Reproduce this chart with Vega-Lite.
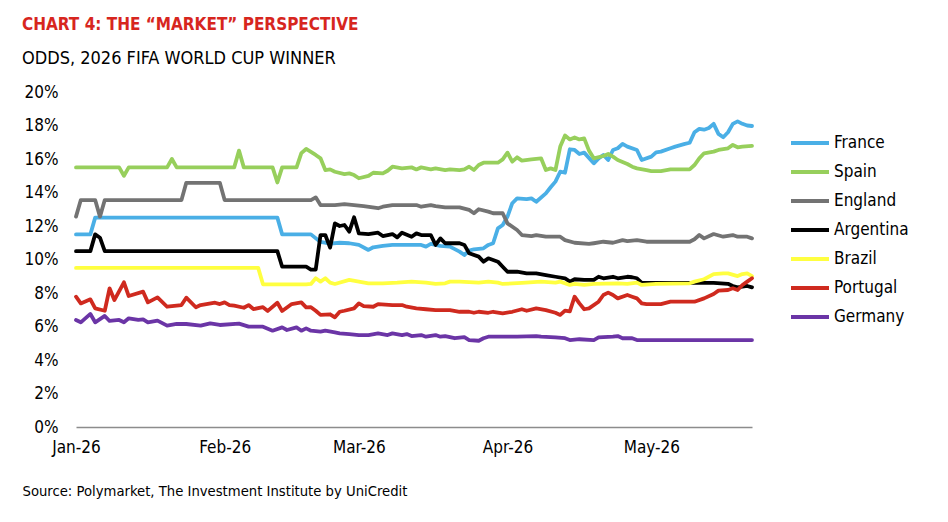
{
  "$schema": "https://vega.github.io/schema/vega-lite/v6.json",
  "width": 676,
  "height": 335,
  "autosize": {"type": "none"},
  "padding": {"left": 76, "top": 92, "right": 196, "bottom": 95},
  "background": "white",
  "title": {
    "text": "CHART 4: THE “MARKET” PERSPECTIVE",
    "subtitle": "ODDS, 2026 FIFA WORLD CUP WINNER",
    "anchor": "start",
    "frame": "group",
    "dx": -54,
    "offset": 14,
    "fontSize": 17,
    "fontWeight": "bold",
    "color": "#d7261e",
    "subtitleFontSize": 18,
    "subtitleColor": "black",
    "subtitlePadding": 16
  },
  "data": {"values": [
    {"country": "France", "date": "2026/01/01", "odds": 11.5},
    {"country": "France", "date": "2026/01/04", "odds": 11.5},
    {"country": "France", "date": "2026/01/05", "odds": 12.5},
    {"country": "France", "date": "2026/02/12", "odds": 12.5},
    {"country": "France", "date": "2026/02/13", "odds": 11.5},
    {"country": "France", "date": "2026/02/19", "odds": 11.5},
    {"country": "France", "date": "2026/02/21", "odds": 11.05},
    {"country": "France", "date": "2026/02/23", "odds": 10.95},
    {"country": "France", "date": "2026/02/25", "odds": 11.0},
    {"country": "France", "date": "2026/02/27", "odds": 10.97},
    {"country": "France", "date": "2026/03/01", "odds": 10.87},
    {"country": "France", "date": "2026/03/03", "odds": 10.57},
    {"country": "France", "date": "2026/03/04", "odds": 10.73},
    {"country": "France", "date": "2026/03/06", "odds": 10.81},
    {"country": "France", "date": "2026/03/08", "odds": 10.87},
    {"country": "France", "date": "2026/03/14", "odds": 10.87},
    {"country": "France", "date": "2026/03/15", "odds": 10.77},
    {"country": "France", "date": "2026/03/16", "odds": 10.93},
    {"country": "France", "date": "2026/03/18", "odds": 10.81},
    {"country": "France", "date": "2026/03/20", "odds": 10.77},
    {"country": "France", "date": "2026/03/22", "odds": 10.47},
    {"country": "France", "date": "2026/03/23", "odds": 10.27},
    {"country": "France", "date": "2026/03/24", "odds": 10.53},
    {"country": "France", "date": "2026/03/25", "odds": 10.61},
    {"country": "France", "date": "2026/03/27", "odds": 10.67},
    {"country": "France", "date": "2026/03/28", "odds": 10.87},
    {"country": "France", "date": "2026/03/29", "odds": 10.97},
    {"country": "France", "date": "2026/03/30", "odds": 11.86},
    {"country": "France", "date": "2026/03/31", "odds": 12.06},
    {"country": "France", "date": "2026/04/01", "odds": 12.56},
    {"country": "France", "date": "2026/04/02", "odds": 13.36},
    {"country": "France", "date": "2026/04/03", "odds": 13.65},
    {"country": "France", "date": "2026/04/05", "odds": 13.6},
    {"country": "France", "date": "2026/04/06", "odds": 13.65},
    {"country": "France", "date": "2026/04/07", "odds": 13.45},
    {"country": "France", "date": "2026/04/09", "odds": 13.95},
    {"country": "France", "date": "2026/04/10", "odds": 14.31},
    {"country": "France", "date": "2026/04/11", "odds": 14.65},
    {"country": "France", "date": "2026/04/12", "odds": 15.24},
    {"country": "France", "date": "2026/04/13", "odds": 15.18},
    {"country": "France", "date": "2026/04/14", "odds": 16.58},
    {"country": "France", "date": "2026/04/15", "odds": 16.54},
    {"country": "France", "date": "2026/04/16", "odds": 16.3},
    {"country": "France", "date": "2026/04/17", "odds": 16.38},
    {"country": "France", "date": "2026/04/19", "odds": 15.74},
    {"country": "France", "date": "2026/04/20", "odds": 16.04},
    {"country": "France", "date": "2026/04/21", "odds": 16.24},
    {"country": "France", "date": "2026/04/22", "odds": 15.94},
    {"country": "France", "date": "2026/04/23", "odds": 16.54},
    {"country": "France", "date": "2026/04/24", "odds": 16.64},
    {"country": "France", "date": "2026/04/25", "odds": 16.9},
    {"country": "France", "date": "2026/04/26", "odds": 16.74},
    {"country": "France", "date": "2026/04/28", "odds": 16.54},
    {"country": "France", "date": "2026/04/29", "odds": 15.94},
    {"country": "France", "date": "2026/05/01", "odds": 16.14},
    {"country": "France", "date": "2026/05/02", "odds": 16.4},
    {"country": "France", "date": "2026/05/03", "odds": 16.44},
    {"country": "France", "date": "2026/05/05", "odds": 16.64},
    {"country": "France", "date": "2026/05/06", "odds": 16.74},
    {"country": "France", "date": "2026/05/08", "odds": 16.9},
    {"country": "France", "date": "2026/05/09", "odds": 16.97},
    {"country": "France", "date": "2026/05/10", "odds": 17.6},
    {"country": "France", "date": "2026/05/11", "odds": 17.8},
    {"country": "France", "date": "2026/05/12", "odds": 17.75},
    {"country": "France", "date": "2026/05/13", "odds": 17.85},
    {"country": "France", "date": "2026/05/14", "odds": 18.1},
    {"country": "France", "date": "2026/05/15", "odds": 17.5},
    {"country": "France", "date": "2026/05/16", "odds": 17.3},
    {"country": "France", "date": "2026/05/17", "odds": 17.6},
    {"country": "France", "date": "2026/05/18", "odds": 18.1},
    {"country": "France", "date": "2026/05/19", "odds": 18.25},
    {"country": "France", "date": "2026/05/20", "odds": 18.1},
    {"country": "France", "date": "2026/05/21", "odds": 18.0},
    {"country": "France", "date": "2026/05/22", "odds": 17.97},

    {"country": "Spain", "date": "2026/01/01", "odds": 15.5},
    {"country": "Spain", "date": "2026/01/10", "odds": 15.5},
    {"country": "Spain", "date": "2026/01/11", "odds": 15.0},
    {"country": "Spain", "date": "2026/01/12", "odds": 15.5},
    {"country": "Spain", "date": "2026/01/20", "odds": 15.5},
    {"country": "Spain", "date": "2026/01/21", "odds": 16.0},
    {"country": "Spain", "date": "2026/01/22", "odds": 15.5},
    {"country": "Spain", "date": "2026/02/03", "odds": 15.5},
    {"country": "Spain", "date": "2026/02/04", "odds": 16.5},
    {"country": "Spain", "date": "2026/02/05", "odds": 15.5},
    {"country": "Spain", "date": "2026/02/11", "odds": 15.5},
    {"country": "Spain", "date": "2026/02/12", "odds": 14.6},
    {"country": "Spain", "date": "2026/02/13", "odds": 15.5},
    {"country": "Spain", "date": "2026/02/16", "odds": 15.5},
    {"country": "Spain", "date": "2026/02/17", "odds": 16.35},
    {"country": "Spain", "date": "2026/02/18", "odds": 16.6},
    {"country": "Spain", "date": "2026/02/20", "odds": 16.24},
    {"country": "Spain", "date": "2026/02/21", "odds": 16.04},
    {"country": "Spain", "date": "2026/02/22", "odds": 15.34},
    {"country": "Spain", "date": "2026/02/23", "odds": 15.38},
    {"country": "Spain", "date": "2026/02/24", "odds": 15.24},
    {"country": "Spain", "date": "2026/02/26", "odds": 15.1},
    {"country": "Spain", "date": "2026/02/27", "odds": 15.14},
    {"country": "Spain", "date": "2026/02/28", "odds": 15.04},
    {"country": "Spain", "date": "2026/03/01", "odds": 14.85},
    {"country": "Spain", "date": "2026/03/03", "odds": 14.99},
    {"country": "Spain", "date": "2026/03/04", "odds": 15.18},
    {"country": "Spain", "date": "2026/03/06", "odds": 15.14},
    {"country": "Spain", "date": "2026/03/07", "odds": 15.3},
    {"country": "Spain", "date": "2026/03/08", "odds": 15.54},
    {"country": "Spain", "date": "2026/03/10", "odds": 15.44},
    {"country": "Spain", "date": "2026/03/12", "odds": 15.5},
    {"country": "Spain", "date": "2026/03/13", "odds": 15.38},
    {"country": "Spain", "date": "2026/03/14", "odds": 15.5},
    {"country": "Spain", "date": "2026/03/16", "odds": 15.38},
    {"country": "Spain", "date": "2026/03/17", "odds": 15.44},
    {"country": "Spain", "date": "2026/03/19", "odds": 15.34},
    {"country": "Spain", "date": "2026/03/20", "odds": 15.38},
    {"country": "Spain", "date": "2026/03/22", "odds": 15.34},
    {"country": "Spain", "date": "2026/03/23", "odds": 15.38},
    {"country": "Spain", "date": "2026/03/24", "odds": 15.54},
    {"country": "Spain", "date": "2026/03/25", "odds": 15.34},
    {"country": "Spain", "date": "2026/03/26", "odds": 15.64},
    {"country": "Spain", "date": "2026/03/27", "odds": 15.78},
    {"country": "Spain", "date": "2026/03/30", "odds": 15.78},
    {"country": "Spain", "date": "2026/03/31", "odds": 15.98},
    {"country": "Spain", "date": "2026/04/01", "odds": 16.38},
    {"country": "Spain", "date": "2026/04/02", "odds": 15.84},
    {"country": "Spain", "date": "2026/04/03", "odds": 16.1},
    {"country": "Spain", "date": "2026/04/04", "odds": 15.9},
    {"country": "Spain", "date": "2026/04/06", "odds": 15.98},
    {"country": "Spain", "date": "2026/04/08", "odds": 16.04},
    {"country": "Spain", "date": "2026/04/09", "odds": 15.34},
    {"country": "Spain", "date": "2026/04/10", "odds": 15.44},
    {"country": "Spain", "date": "2026/04/11", "odds": 15.34},
    {"country": "Spain", "date": "2026/04/12", "odds": 16.74},
    {"country": "Spain", "date": "2026/04/13", "odds": 17.4},
    {"country": "Spain", "date": "2026/04/14", "odds": 17.17},
    {"country": "Spain", "date": "2026/04/15", "odds": 17.29},
    {"country": "Spain", "date": "2026/04/16", "odds": 17.17},
    {"country": "Spain", "date": "2026/04/17", "odds": 17.23},
    {"country": "Spain", "date": "2026/04/18", "odds": 16.5},
    {"country": "Spain", "date": "2026/04/19", "odds": 16.04},
    {"country": "Spain", "date": "2026/04/21", "odds": 16.18},
    {"country": "Spain", "date": "2026/04/22", "odds": 16.3},
    {"country": "Spain", "date": "2026/04/23", "odds": 16.14},
    {"country": "Spain", "date": "2026/04/24", "odds": 15.94},
    {"country": "Spain", "date": "2026/04/26", "odds": 15.7},
    {"country": "Spain", "date": "2026/04/27", "odds": 15.54},
    {"country": "Spain", "date": "2026/04/28", "odds": 15.44},
    {"country": "Spain", "date": "2026/04/30", "odds": 15.34},
    {"country": "Spain", "date": "2026/05/01", "odds": 15.28},
    {"country": "Spain", "date": "2026/05/03", "odds": 15.28},
    {"country": "Spain", "date": "2026/05/05", "odds": 15.38},
    {"country": "Spain", "date": "2026/05/09", "odds": 15.38},
    {"country": "Spain", "date": "2026/05/10", "odds": 15.64},
    {"country": "Spain", "date": "2026/05/11", "odds": 16.04},
    {"country": "Spain", "date": "2026/05/12", "odds": 16.34},
    {"country": "Spain", "date": "2026/05/14", "odds": 16.44},
    {"country": "Spain", "date": "2026/05/15", "odds": 16.54},
    {"country": "Spain", "date": "2026/05/17", "odds": 16.64},
    {"country": "Spain", "date": "2026/05/18", "odds": 16.84},
    {"country": "Spain", "date": "2026/05/19", "odds": 16.7},
    {"country": "Spain", "date": "2026/05/20", "odds": 16.74},
    {"country": "Spain", "date": "2026/05/22", "odds": 16.78},

    {"country": "England", "date": "2026/01/01", "odds": 12.56},
    {"country": "England", "date": "2026/01/02", "odds": 13.55},
    {"country": "England", "date": "2026/01/05", "odds": 13.55},
    {"country": "England", "date": "2026/01/06", "odds": 12.56},
    {"country": "England", "date": "2026/01/07", "odds": 13.55},
    {"country": "England", "date": "2026/01/23", "odds": 13.55},
    {"country": "England", "date": "2026/01/24", "odds": 14.58},
    {"country": "England", "date": "2026/01/31", "odds": 14.58},
    {"country": "England", "date": "2026/02/01", "odds": 13.55},
    {"country": "England", "date": "2026/02/19", "odds": 13.55},
    {"country": "England", "date": "2026/02/20", "odds": 13.71},
    {"country": "England", "date": "2026/02/21", "odds": 13.25},
    {"country": "England", "date": "2026/02/24", "odds": 13.25},
    {"country": "England", "date": "2026/02/26", "odds": 13.31},
    {"country": "England", "date": "2026/02/28", "odds": 13.25},
    {"country": "England", "date": "2026/03/02", "odds": 13.19},
    {"country": "England", "date": "2026/03/05", "odds": 13.06},
    {"country": "England", "date": "2026/03/06", "odds": 13.15},
    {"country": "England", "date": "2026/03/08", "odds": 13.25},
    {"country": "England", "date": "2026/03/13", "odds": 13.25},
    {"country": "England", "date": "2026/03/14", "odds": 13.15},
    {"country": "England", "date": "2026/03/16", "odds": 13.25},
    {"country": "England", "date": "2026/03/17", "odds": 13.19},
    {"country": "England", "date": "2026/03/19", "odds": 13.11},
    {"country": "England", "date": "2026/03/22", "odds": 13.11},
    {"country": "England", "date": "2026/03/24", "odds": 12.96},
    {"country": "England", "date": "2026/03/25", "odds": 12.76},
    {"country": "England", "date": "2026/03/26", "odds": 13.0},
    {"country": "England", "date": "2026/03/28", "odds": 12.86},
    {"country": "England", "date": "2026/03/29", "odds": 12.76},
    {"country": "England", "date": "2026/03/31", "odds": 12.76},
    {"country": "England", "date": "2026/04/01", "odds": 12.16},
    {"country": "England", "date": "2026/04/03", "odds": 11.76},
    {"country": "England", "date": "2026/04/04", "odds": 11.46},
    {"country": "England", "date": "2026/04/06", "odds": 11.4},
    {"country": "England", "date": "2026/04/07", "odds": 11.46},
    {"country": "England", "date": "2026/04/09", "odds": 11.36},
    {"country": "England", "date": "2026/04/12", "odds": 11.36},
    {"country": "England", "date": "2026/04/13", "odds": 11.16},
    {"country": "England", "date": "2026/04/15", "odds": 11.0},
    {"country": "England", "date": "2026/04/18", "odds": 10.93},
    {"country": "England", "date": "2026/04/19", "odds": 10.97},
    {"country": "England", "date": "2026/04/21", "odds": 11.06},
    {"country": "England", "date": "2026/04/23", "odds": 11.0},
    {"country": "England", "date": "2026/04/25", "odds": 11.16},
    {"country": "England", "date": "2026/04/26", "odds": 11.1},
    {"country": "England", "date": "2026/04/28", "odds": 11.16},
    {"country": "England", "date": "2026/04/30", "odds": 11.06},
    {"country": "England", "date": "2026/05/09", "odds": 11.06},
    {"country": "England", "date": "2026/05/10", "odds": 11.21},
    {"country": "England", "date": "2026/05/11", "odds": 11.46},
    {"country": "England", "date": "2026/05/12", "odds": 11.26},
    {"country": "England", "date": "2026/05/14", "odds": 11.52},
    {"country": "England", "date": "2026/05/16", "odds": 11.36},
    {"country": "England", "date": "2026/05/18", "odds": 11.46},
    {"country": "England", "date": "2026/05/19", "odds": 11.36},
    {"country": "England", "date": "2026/05/21", "odds": 11.36},
    {"country": "England", "date": "2026/05/22", "odds": 11.26},

    {"country": "Argentina", "date": "2026/01/01", "odds": 10.5},
    {"country": "Argentina", "date": "2026/01/04", "odds": 10.5},
    {"country": "Argentina", "date": "2026/01/05", "odds": 11.5},
    {"country": "Argentina", "date": "2026/01/06", "odds": 11.3},
    {"country": "Argentina", "date": "2026/01/07", "odds": 10.5},
    {"country": "Argentina", "date": "2026/02/12", "odds": 10.5},
    {"country": "Argentina", "date": "2026/02/13", "odds": 9.57},
    {"country": "Argentina", "date": "2026/02/18", "odds": 9.57},
    {"country": "Argentina", "date": "2026/02/19", "odds": 9.4},
    {"country": "Argentina", "date": "2026/02/20", "odds": 9.4},
    {"country": "Argentina", "date": "2026/02/21", "odds": 11.46},
    {"country": "Argentina", "date": "2026/02/22", "odds": 11.46},
    {"country": "Argentina", "date": "2026/02/23", "odds": 10.71},
    {"country": "Argentina", "date": "2026/02/24", "odds": 12.16},
    {"country": "Argentina", "date": "2026/02/25", "odds": 12.0},
    {"country": "Argentina", "date": "2026/02/26", "odds": 12.06},
    {"country": "Argentina", "date": "2026/02/27", "odds": 11.66},
    {"country": "Argentina", "date": "2026/02/28", "odds": 12.52},
    {"country": "Argentina", "date": "2026/03/01", "odds": 11.56},
    {"country": "Argentina", "date": "2026/03/03", "odds": 11.52},
    {"country": "Argentina", "date": "2026/03/05", "odds": 11.6},
    {"country": "Argentina", "date": "2026/03/06", "odds": 11.4},
    {"country": "Argentina", "date": "2026/03/08", "odds": 11.52},
    {"country": "Argentina", "date": "2026/03/09", "odds": 11.32},
    {"country": "Argentina", "date": "2026/03/10", "odds": 11.6},
    {"country": "Argentina", "date": "2026/03/12", "odds": 11.36},
    {"country": "Argentina", "date": "2026/03/13", "odds": 11.56},
    {"country": "Argentina", "date": "2026/03/14", "odds": 11.46},
    {"country": "Argentina", "date": "2026/03/16", "odds": 11.46},
    {"country": "Argentina", "date": "2026/03/17", "odds": 10.87},
    {"country": "Argentina", "date": "2026/03/18", "odds": 11.26},
    {"country": "Argentina", "date": "2026/03/19", "odds": 10.97},
    {"country": "Argentina", "date": "2026/03/22", "odds": 10.97},
    {"country": "Argentina", "date": "2026/03/23", "odds": 10.87},
    {"country": "Argentina", "date": "2026/03/24", "odds": 10.37},
    {"country": "Argentina", "date": "2026/03/26", "odds": 10.17},
    {"country": "Argentina", "date": "2026/03/27", "odds": 9.87},
    {"country": "Argentina", "date": "2026/03/28", "odds": 10.07},
    {"country": "Argentina", "date": "2026/03/30", "odds": 9.87},
    {"country": "Argentina", "date": "2026/03/31", "odds": 9.57},
    {"country": "Argentina", "date": "2026/04/01", "odds": 9.27},
    {"country": "Argentina", "date": "2026/04/03", "odds": 9.27},
    {"country": "Argentina", "date": "2026/04/05", "odds": 9.17},
    {"country": "Argentina", "date": "2026/04/07", "odds": 9.17},
    {"country": "Argentina", "date": "2026/04/09", "odds": 9.07},
    {"country": "Argentina", "date": "2026/04/11", "odds": 8.97},
    {"country": "Argentina", "date": "2026/04/13", "odds": 8.88},
    {"country": "Argentina", "date": "2026/04/14", "odds": 8.68},
    {"country": "Argentina", "date": "2026/04/15", "odds": 8.82},
    {"country": "Argentina", "date": "2026/04/17", "odds": 8.78},
    {"country": "Argentina", "date": "2026/04/19", "odds": 8.78},
    {"country": "Argentina", "date": "2026/04/20", "odds": 8.97},
    {"country": "Argentina", "date": "2026/04/21", "odds": 8.88},
    {"country": "Argentina", "date": "2026/04/23", "odds": 8.97},
    {"country": "Argentina", "date": "2026/04/24", "odds": 8.88},
    {"country": "Argentina", "date": "2026/04/26", "odds": 8.97},
    {"country": "Argentina", "date": "2026/04/27", "odds": 8.94},
    {"country": "Argentina", "date": "2026/04/28", "odds": 8.88},
    {"country": "Argentina", "date": "2026/04/29", "odds": 8.6},
    {"country": "Argentina", "date": "2026/05/12", "odds": 8.6},
    {"country": "Argentina", "date": "2026/05/14", "odds": 8.6},
    {"country": "Argentina", "date": "2026/05/17", "odds": 8.55},
    {"country": "Argentina", "date": "2026/05/18", "odds": 8.42},
    {"country": "Argentina", "date": "2026/05/19", "odds": 8.34},
    {"country": "Argentina", "date": "2026/05/21", "odds": 8.42},
    {"country": "Argentina", "date": "2026/05/22", "odds": 8.34},

    {"country": "Brazil", "date": "2026/01/01", "odds": 9.5},
    {"country": "Brazil", "date": "2026/02/08", "odds": 9.5},
    {"country": "Brazil", "date": "2026/02/09", "odds": 8.52},
    {"country": "Brazil", "date": "2026/02/18", "odds": 8.52},
    {"country": "Brazil", "date": "2026/02/19", "odds": 8.54},
    {"country": "Brazil", "date": "2026/02/20", "odds": 8.88},
    {"country": "Brazil", "date": "2026/02/21", "odds": 8.68},
    {"country": "Brazil", "date": "2026/02/22", "odds": 8.88},
    {"country": "Brazil", "date": "2026/02/23", "odds": 8.62},
    {"country": "Brazil", "date": "2026/02/24", "odds": 8.54},
    {"country": "Brazil", "date": "2026/02/27", "odds": 8.78},
    {"country": "Brazil", "date": "2026/03/01", "odds": 8.68},
    {"country": "Brazil", "date": "2026/03/03", "odds": 8.58},
    {"country": "Brazil", "date": "2026/03/06", "odds": 8.58},
    {"country": "Brazil", "date": "2026/03/09", "odds": 8.62},
    {"country": "Brazil", "date": "2026/03/12", "odds": 8.68},
    {"country": "Brazil", "date": "2026/03/15", "odds": 8.62},
    {"country": "Brazil", "date": "2026/03/17", "odds": 8.54},
    {"country": "Brazil", "date": "2026/03/19", "odds": 8.58},
    {"country": "Brazil", "date": "2026/03/20", "odds": 8.68},
    {"country": "Brazil", "date": "2026/03/22", "odds": 8.68},
    {"country": "Brazil", "date": "2026/03/26", "odds": 8.62},
    {"country": "Brazil", "date": "2026/03/28", "odds": 8.68},
    {"country": "Brazil", "date": "2026/03/30", "odds": 8.62},
    {"country": "Brazil", "date": "2026/03/31", "odds": 8.54},
    {"country": "Brazil", "date": "2026/04/04", "odds": 8.6},
    {"country": "Brazil", "date": "2026/04/08", "odds": 8.68},
    {"country": "Brazil", "date": "2026/04/11", "odds": 8.62},
    {"country": "Brazil", "date": "2026/04/12", "odds": 8.68},
    {"country": "Brazil", "date": "2026/04/14", "odds": 8.48},
    {"country": "Brazil", "date": "2026/04/15", "odds": 8.54},
    {"country": "Brazil", "date": "2026/04/17", "odds": 8.48},
    {"country": "Brazil", "date": "2026/04/19", "odds": 8.54},
    {"country": "Brazil", "date": "2026/04/24", "odds": 8.58},
    {"country": "Brazil", "date": "2026/04/26", "odds": 8.54},
    {"country": "Brazil", "date": "2026/04/28", "odds": 8.62},
    {"country": "Brazil", "date": "2026/04/29", "odds": 8.48},
    {"country": "Brazil", "date": "2026/05/02", "odds": 8.54},
    {"country": "Brazil", "date": "2026/05/09", "odds": 8.58},
    {"country": "Brazil", "date": "2026/05/10", "odds": 8.68},
    {"country": "Brazil", "date": "2026/05/12", "odds": 8.82},
    {"country": "Brazil", "date": "2026/05/14", "odds": 9.13},
    {"country": "Brazil", "date": "2026/05/16", "odds": 9.17},
    {"country": "Brazil", "date": "2026/05/17", "odds": 9.17},
    {"country": "Brazil", "date": "2026/05/19", "odds": 9.01},
    {"country": "Brazil", "date": "2026/05/20", "odds": 9.13},
    {"country": "Brazil", "date": "2026/05/21", "odds": 9.17},
    {"country": "Brazil", "date": "2026/05/22", "odds": 9.01},

    {"country": "Portugal", "date": "2026/01/01", "odds": 7.78},
    {"country": "Portugal", "date": "2026/01/02", "odds": 7.38},
    {"country": "Portugal", "date": "2026/01/04", "odds": 7.62},
    {"country": "Portugal", "date": "2026/01/05", "odds": 7.08},
    {"country": "Portugal", "date": "2026/01/07", "odds": 6.94},
    {"country": "Portugal", "date": "2026/01/08", "odds": 8.28},
    {"country": "Portugal", "date": "2026/01/09", "odds": 7.58},
    {"country": "Portugal", "date": "2026/01/11", "odds": 8.64},
    {"country": "Portugal", "date": "2026/01/12", "odds": 7.82},
    {"country": "Portugal", "date": "2026/01/15", "odds": 8.08},
    {"country": "Portugal", "date": "2026/01/16", "odds": 7.44},
    {"country": "Portugal", "date": "2026/01/18", "odds": 7.74},
    {"country": "Portugal", "date": "2026/01/20", "odds": 7.18},
    {"country": "Portugal", "date": "2026/01/23", "odds": 7.28},
    {"country": "Portugal", "date": "2026/01/24", "odds": 7.72},
    {"country": "Portugal", "date": "2026/01/26", "odds": 7.15},
    {"country": "Portugal", "date": "2026/01/27", "odds": 7.28},
    {"country": "Portugal", "date": "2026/01/30", "odds": 7.42},
    {"country": "Portugal", "date": "2026/01/31", "odds": 7.34},
    {"country": "Portugal", "date": "2026/02/01", "odds": 7.44},
    {"country": "Portugal", "date": "2026/02/02", "odds": 7.28},
    {"country": "Portugal", "date": "2026/02/03", "odds": 7.24},
    {"country": "Portugal", "date": "2026/02/05", "odds": 7.12},
    {"country": "Portugal", "date": "2026/02/06", "odds": 7.28},
    {"country": "Portugal", "date": "2026/02/07", "odds": 7.04},
    {"country": "Portugal", "date": "2026/02/09", "odds": 7.15},
    {"country": "Portugal", "date": "2026/02/10", "odds": 6.93},
    {"country": "Portugal", "date": "2026/02/12", "odds": 7.42},
    {"country": "Portugal", "date": "2026/02/13", "odds": 6.93},
    {"country": "Portugal", "date": "2026/02/15", "odds": 7.34},
    {"country": "Portugal", "date": "2026/02/17", "odds": 7.44},
    {"country": "Portugal", "date": "2026/02/18", "odds": 7.14},
    {"country": "Portugal", "date": "2026/02/19", "odds": 7.15},
    {"country": "Portugal", "date": "2026/02/20", "odds": 6.94},
    {"country": "Portugal", "date": "2026/02/21", "odds": 6.69},
    {"country": "Portugal", "date": "2026/02/23", "odds": 6.73},
    {"country": "Portugal", "date": "2026/02/24", "odds": 6.55},
    {"country": "Portugal", "date": "2026/02/25", "odds": 6.88},
    {"country": "Portugal", "date": "2026/02/26", "odds": 6.94},
    {"country": "Portugal", "date": "2026/02/28", "odds": 7.08},
    {"country": "Portugal", "date": "2026/03/01", "odds": 7.38},
    {"country": "Portugal", "date": "2026/03/02", "odds": 7.22},
    {"country": "Portugal", "date": "2026/03/04", "odds": 7.18},
    {"country": "Portugal", "date": "2026/03/05", "odds": 7.34},
    {"country": "Portugal", "date": "2026/03/08", "odds": 7.28},
    {"country": "Portugal", "date": "2026/03/10", "odds": 7.28},
    {"country": "Portugal", "date": "2026/03/11", "odds": 7.18},
    {"country": "Portugal", "date": "2026/03/13", "odds": 7.08},
    {"country": "Portugal", "date": "2026/03/15", "odds": 7.03},
    {"country": "Portugal", "date": "2026/03/17", "odds": 6.98},
    {"country": "Portugal", "date": "2026/03/20", "odds": 6.98},
    {"country": "Portugal", "date": "2026/03/22", "odds": 6.88},
    {"country": "Portugal", "date": "2026/03/24", "odds": 6.88},
    {"country": "Portugal", "date": "2026/03/25", "odds": 6.82},
    {"country": "Portugal", "date": "2026/03/26", "odds": 6.88},
    {"country": "Portugal", "date": "2026/03/28", "odds": 6.82},
    {"country": "Portugal", "date": "2026/03/29", "odds": 6.88},
    {"country": "Portugal", "date": "2026/03/31", "odds": 6.79},
    {"country": "Portugal", "date": "2026/04/02", "odds": 6.88},
    {"country": "Portugal", "date": "2026/04/04", "odds": 7.03},
    {"country": "Portugal", "date": "2026/04/05", "odds": 6.94},
    {"country": "Portugal", "date": "2026/04/07", "odds": 7.08},
    {"country": "Portugal", "date": "2026/04/09", "odds": 6.98},
    {"country": "Portugal", "date": "2026/04/11", "odds": 6.82},
    {"country": "Portugal", "date": "2026/04/12", "odds": 6.69},
    {"country": "Portugal", "date": "2026/04/13", "odds": 6.95},
    {"country": "Portugal", "date": "2026/04/14", "odds": 6.9},
    {"country": "Portugal", "date": "2026/04/15", "odds": 7.78},
    {"country": "Portugal", "date": "2026/04/16", "odds": 7.38},
    {"country": "Portugal", "date": "2026/04/17", "odds": 7.03},
    {"country": "Portugal", "date": "2026/04/18", "odds": 7.08},
    {"country": "Portugal", "date": "2026/04/20", "odds": 7.48},
    {"country": "Portugal", "date": "2026/04/21", "odds": 7.88},
    {"country": "Portugal", "date": "2026/04/22", "odds": 8.02},
    {"country": "Portugal", "date": "2026/04/23", "odds": 7.88},
    {"country": "Portugal", "date": "2026/04/24", "odds": 7.68},
    {"country": "Portugal", "date": "2026/04/26", "odds": 7.88},
    {"country": "Portugal", "date": "2026/04/27", "odds": 7.78},
    {"country": "Portugal", "date": "2026/04/28", "odds": 7.68},
    {"country": "Portugal", "date": "2026/04/29", "odds": 7.38},
    {"country": "Portugal", "date": "2026/04/30", "odds": 7.34},
    {"country": "Portugal", "date": "2026/05/03", "odds": 7.34},
    {"country": "Portugal", "date": "2026/05/05", "odds": 7.48},
    {"country": "Portugal", "date": "2026/05/10", "odds": 7.48},
    {"country": "Portugal", "date": "2026/05/12", "odds": 7.68},
    {"country": "Portugal", "date": "2026/05/14", "odds": 7.94},
    {"country": "Portugal", "date": "2026/05/15", "odds": 8.14},
    {"country": "Portugal", "date": "2026/05/17", "odds": 8.18},
    {"country": "Portugal", "date": "2026/05/18", "odds": 8.28},
    {"country": "Portugal", "date": "2026/05/19", "odds": 8.18},
    {"country": "Portugal", "date": "2026/05/20", "odds": 8.48},
    {"country": "Portugal", "date": "2026/05/21", "odds": 8.68},
    {"country": "Portugal", "date": "2026/05/22", "odds": 8.88},

    {"country": "Germany", "date": "2026/01/01", "odds": 6.39},
    {"country": "Germany", "date": "2026/01/02", "odds": 6.25},
    {"country": "Germany", "date": "2026/01/04", "odds": 6.75},
    {"country": "Germany", "date": "2026/01/05", "odds": 6.25},
    {"country": "Germany", "date": "2026/01/07", "odds": 6.63},
    {"country": "Germany", "date": "2026/01/08", "odds": 6.33},
    {"country": "Germany", "date": "2026/01/10", "odds": 6.39},
    {"country": "Germany", "date": "2026/01/11", "odds": 6.25},
    {"country": "Germany", "date": "2026/01/12", "odds": 6.49},
    {"country": "Germany", "date": "2026/01/14", "odds": 6.39},
    {"country": "Germany", "date": "2026/01/15", "odds": 6.43},
    {"country": "Germany", "date": "2026/01/16", "odds": 6.25},
    {"country": "Germany", "date": "2026/01/18", "odds": 6.35},
    {"country": "Germany", "date": "2026/01/20", "odds": 6.05},
    {"country": "Germany", "date": "2026/01/22", "odds": 6.15},
    {"country": "Germany", "date": "2026/01/24", "odds": 6.15},
    {"country": "Germany", "date": "2026/01/27", "odds": 6.05},
    {"country": "Germany", "date": "2026/01/29", "odds": 6.19},
    {"country": "Germany", "date": "2026/01/31", "odds": 6.09},
    {"country": "Germany", "date": "2026/02/04", "odds": 6.17},
    {"country": "Germany", "date": "2026/02/06", "odds": 5.99},
    {"country": "Germany", "date": "2026/02/09", "odds": 5.99},
    {"country": "Germany", "date": "2026/02/11", "odds": 5.75},
    {"country": "Germany", "date": "2026/02/13", "odds": 5.95},
    {"country": "Germany", "date": "2026/02/14", "odds": 5.79},
    {"country": "Germany", "date": "2026/02/16", "odds": 5.95},
    {"country": "Germany", "date": "2026/02/17", "odds": 5.75},
    {"country": "Germany", "date": "2026/02/18", "odds": 5.89},
    {"country": "Germany", "date": "2026/02/19", "odds": 5.75},
    {"country": "Germany", "date": "2026/02/21", "odds": 5.69},
    {"country": "Germany", "date": "2026/02/22", "odds": 5.75},
    {"country": "Germany", "date": "2026/02/24", "odds": 5.65},
    {"country": "Germany", "date": "2026/02/25", "odds": 5.59},
    {"country": "Germany", "date": "2026/02/27", "odds": 5.55},
    {"country": "Germany", "date": "2026/03/01", "odds": 5.49},
    {"country": "Germany", "date": "2026/03/03", "odds": 5.49},
    {"country": "Germany", "date": "2026/03/05", "odds": 5.59},
    {"country": "Germany", "date": "2026/03/07", "odds": 5.49},
    {"country": "Germany", "date": "2026/03/08", "odds": 5.59},
    {"country": "Germany", "date": "2026/03/10", "odds": 5.49},
    {"country": "Germany", "date": "2026/03/11", "odds": 5.55},
    {"country": "Germany", "date": "2026/03/12", "odds": 5.43},
    {"country": "Germany", "date": "2026/03/14", "odds": 5.49},
    {"country": "Germany", "date": "2026/03/15", "odds": 5.39},
    {"country": "Germany", "date": "2026/03/17", "odds": 5.49},
    {"country": "Germany", "date": "2026/03/18", "odds": 5.39},
    {"country": "Germany", "date": "2026/03/19", "odds": 5.43},
    {"country": "Germany", "date": "2026/03/21", "odds": 5.3},
    {"country": "Germany", "date": "2026/03/23", "odds": 5.36},
    {"country": "Germany", "date": "2026/03/24", "odds": 5.19},
    {"country": "Germany", "date": "2026/03/26", "odds": 5.15},
    {"country": "Germany", "date": "2026/03/27", "odds": 5.3},
    {"country": "Germany", "date": "2026/03/28", "odds": 5.39},
    {"country": "Germany", "date": "2026/04/03", "odds": 5.4},
    {"country": "Germany", "date": "2026/04/07", "odds": 5.43},
    {"country": "Germany", "date": "2026/04/08", "odds": 5.39},
    {"country": "Germany", "date": "2026/04/11", "odds": 5.35},
    {"country": "Germany", "date": "2026/04/13", "odds": 5.3},
    {"country": "Germany", "date": "2026/04/14", "odds": 5.19},
    {"country": "Germany", "date": "2026/04/16", "odds": 5.24},
    {"country": "Germany", "date": "2026/04/19", "odds": 5.19},
    {"country": "Germany", "date": "2026/04/20", "odds": 5.35},
    {"country": "Germany", "date": "2026/04/23", "odds": 5.39},
    {"country": "Germany", "date": "2026/04/24", "odds": 5.43},
    {"country": "Germany", "date": "2026/04/25", "odds": 5.3},
    {"country": "Germany", "date": "2026/04/27", "odds": 5.3},
    {"country": "Germany", "date": "2026/04/28", "odds": 5.19},
    {"country": "Germany", "date": "2026/05/22", "odds": 5.19}
  ]},
  "mark": {"type": "line", "strokeWidth": 3.8, "strokeJoin": "round", "strokeCap": "round"},
  "encoding": {
    "x": {
      "field": "date",
      "type": "temporal",
      "scale": {"domain": [{"year": 2026, "month": 1, "date": 1}, {"year": 2026, "month": 5, "date": 22}]},
      "axis": {
        "format": "%b-%y",
        "tickCount": {"interval": "month", "step": 1},
        "ticks": false,
        "grid": false,
        "domainColor": "#8c8c8c",
        "domainWidth": 1.5,
        "labelFlush": false,
        "labelFontSize": 17,
        "labelPadding": 12,
        "labelColor": "black",
        "title": "Source: Polymarket, The Investment Institute by UniCredit",
        "titleAnchor": "start",
        "titleAlign": "left",
        "titleX": -54,
        "titleY": 68,
        "titleBaseline": "alphabetic",
        "titleFontSize": 14.7,
        "titleFontWeight": "normal",
        "titleColor": "black"
      }
    },
    "y": {
      "field": "odds",
      "type": "quantitative",
      "scale": {"domain": [0, 20], "nice": false},
      "axis": {
        "values": [0, 2, 4, 6, 8, 10, 12, 14, 16, 18, 20],
        "labelExpr": "datum.value + '%'",
        "domain": false,
        "ticks": false,
        "grid": false,
        "labelFontSize": 17,
        "labelPadding": 18,
        "labelColor": "black",
        "title": null
      }
    },
    "color": {
      "field": "country",
      "type": "nominal",
      "scale": {
        "domain": ["France", "Spain", "England", "Argentina", "Brazil", "Portugal", "Germany"],
        "range": ["#4aafe6", "#97cf5c", "#737373", "#000000", "#ffff40", "#cf2a1f", "#6b35a6"]
      },
      "legend": {
        "orient": "none",
        "legendX": 713,
        "legendY": 30,
        "title": null,
        "symbolType": "stroke",
        "symbolStrokeWidth": 4,
        "symbolSize": 1444,
        "labelFontSize": 17,
        "labelColor": "black",
        "labelOffset": 3,
        "rowPadding": -3
      }
    }
  },
  "config": {
    "view": {"stroke": null},
    "font": "Liberation Sans Narrow, DejaVu Sans Condensed, Roboto Condensed, Liberation Sans, sans-serif"
  }
}
